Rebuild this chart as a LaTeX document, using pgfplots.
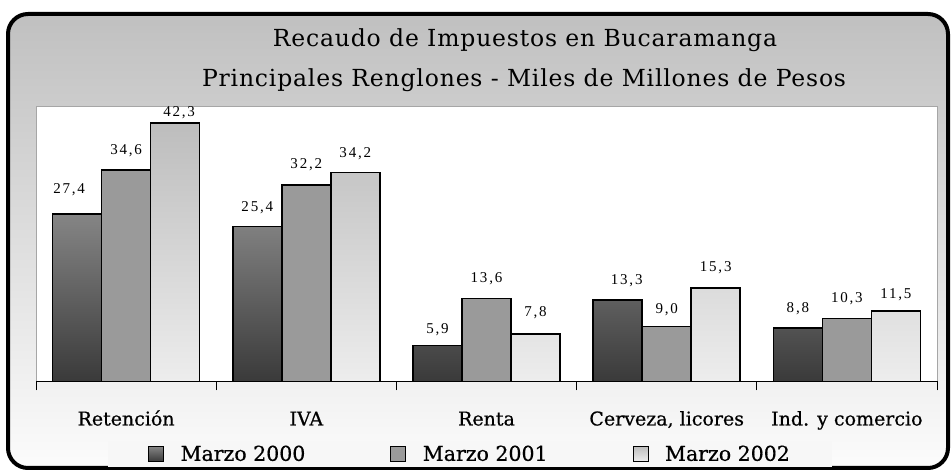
\documentclass[border=0pt]{standalone}
\usepackage{fontspec}
\setmainfont{Liberation Serif}
\newfontfamily\titlefont[LetterSpace=3.5]{DejaVu Serif}
\newfontfamily\numfont[LetterSpace=12]{Liberation Serif}
\newfontfamily\labfont[FakeBold=0.6]{DejaVu Serif}
\usepackage{pgfplots}
\usepackage{pgfplotstable}
\pgfplotsset{compat=1.18}

\definecolor{bgtop}{HTML}{C0C0C0}
\definecolor{bgbot}{HTML}{FCFCFC}
\definecolor{aTop}{HTML}{858585}
\definecolor{aBot}{HTML}{3A3A3A}
\definecolor{bFill}{HTML}{9A9A9A}
\definecolor{cTop}{HTML}{BDBDBD}
\definecolor{cBot}{HTML}{EDEDED}

\pgfplotstableread{
x y dx dy
0 27.4 -8 24
1 25.4 0 19
2 5.9 0 16
3 13.3 9 20
4 8.8 0 19
}\tA
\pgfplotstableread{
x y dx dy
0 34.6 0 19
1 32.2 0 20
2 13.6 0 20
3 9.0 0 17
4 10.3 0 20
}\tB
\pgfplotstableread{
x y dx dy
0 42.3 4 10
1 34.2 0 19
2 7.8 0 21
3 15.3 0 20
4 11.5 0 17
}\tC

\begin{document}
\begin{tikzpicture}[x=1pt,y=1pt]
\useasboundingbox (0,0) rectangle (951,471);
\draw[line width=4pt, rounded corners=20pt, top color=bgtop, bottom color=bgbot] (8,457) rectangle (948,3);
\node[font=\titlefont\fontsize{23.5}{26}\selectfont, anchor=base, inner sep=0pt] at (525,424) {Recaudo de Impuestos en Bucaramanga};
\node[font=\titlefont\fontsize{23.5}{26}\selectfont, anchor=base, inner sep=0pt] at (524,384) {Principales Renglones - Miles de Millones de Pesos};
\begin{axis}[
  at={(36pt,89.5pt)}, anchor=south west,
  scale only axis, width=901pt, height=275.5pt,
  xmin=-0.5, xmax=4.5, ymin=0, ymax=45.1,
  ybar=0pt, bar width=49pt,
  axis x line*=bottom, axis y line=none,
  axis line style={black, line width=1pt},
  axis background/.style={fill=white, draw=gray!70, line width=0.8pt},
  xtick={0,...,4},
  xticklabels={Retención, IVA, Renta, {Cerveza, licores}, {Ind. y comercio}},
  major tick length=0pt,
  minor xtick={-0.5,0.5,...,4.5},
  minor tick length=9pt,
  tick align=outside,
  tick style={black, line width=1pt},
  ytick=\empty,
  xticklabel style={font=\labfont\fontsize{19}{19}\selectfont, anchor=base, yshift=-44pt},
  nodes near coords={\pgfmathprintnumber[fixed,fixed zerofill,precision=1,use comma,assume math mode=true]{\pgfplotspointmeta}},
  visualization depends on={\thisrow{dx} \as \myDX},
  visualization depends on={\thisrow{dy} \as \myDY},
  every node near coord/.append style={font=\numfont\fontsize{15}{15}\selectfont, anchor=center, xshift=\myDX pt, yshift=\myDY pt, inner sep=0pt},
  legend columns=3,
  legend image code/.code={\draw[#1, line width=0.8pt] (0pt,-7.5pt) rectangle (15pt,7.5pt); \path[draw=none, fill=none] (15pt,0pt) -- (30pt,0pt);},
  legend style={at={(0.4817,-0.263)}, anchor=center, draw=none, fill=white!97!black,
    font=\labfont\fontsize{20.5}{20.5}\selectfont,
    /tikz/every even column/.append style={column sep=83pt},
    inner xsep=40pt, inner ysep=3pt},
]
\addplot[draw=black, line width=1.6pt, top color=aTop, bottom color=aBot] table[x=x,y=y] {\tA};
\addplot[draw=black, line width=1.6pt, fill=bFill] table[x=x,y=y] {\tB};
\addplot[draw=black, line width=1.6pt, top color=cTop, bottom color=cBot] table[x=x,y=y] {\tC};
\legend{Marzo 2000, Marzo 2001, Marzo 2002}
\end{axis}
\end{tikzpicture}
\end{document}
